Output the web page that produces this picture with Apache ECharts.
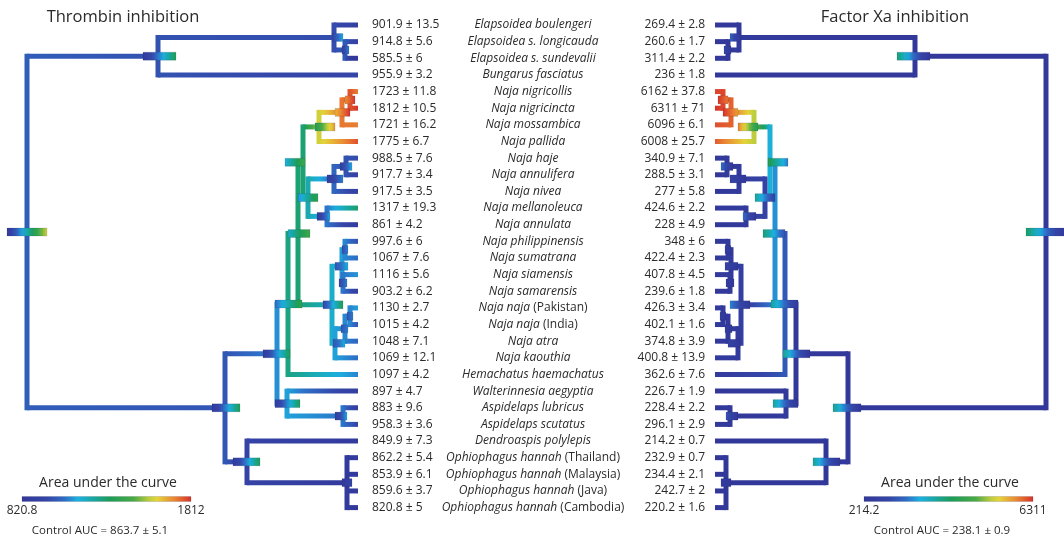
<!DOCTYPE html>
<html><head><meta charset="utf-8">
<script src="https://cdn.jsdelivr.net/npm/echarts@6/dist/echarts.min.js"></script>
<style>html,body{margin:0;padding:0;background:#fff}#c{width:1064px;height:540px}</style>
</head><body><div id="c"></div>
<script>
// ---------------- data ----------------
const species = ['Elapsoidea boulengeri','Elapsoidea s. longicauda','Elapsoidea s. sundevalii','Bungarus fasciatus',
 'Naja nigricollis','Naja nigricincta','Naja mossambica','Naja pallida','Naja haje','Naja annulifera','Naja nivea',
 'Naja mellanoleuca','Naja annulata','Naja philippinensis','Naja sumatrana','Naja siamensis','Naja samarensis',
 'Naja naja (Pakistan)','Naja naja (India)','Naja atra','Naja kaouthia','Hemachatus haemachatus','Walterinnesia aegyptia',
 'Aspidelaps lubricus','Aspidelaps scutatus','Dendroaspis polylepis','Ophiophagus hannah (Thailand)',
 'Ophiophagus hannah (Malaysia)','Ophiophagus hannah (Java)','Ophiophagus hannah (Cambodia)'];
const thrVal = [901.9,914.8,585.5,955.9,1723,1812,1721,1775,988.5,917.7,917.5,1317,861,997.6,1067,1116,903.2,1130,1015,1048,1069,1097,897,883,958.3,849.9,862.2,853.9,859.6,820.8];
const thrErr = [13.5,5.6,6,3.2,11.8,10.5,16.2,6.7,7.6,3.4,3.5,19.3,4.2,6,7.6,5.6,6.2,2.7,4.2,7.1,12.1,4.2,4.7,9.6,3.6,7.3,5.4,6.1,3.7,5];
const fxaVal = [269.4,260.6,311.4,236,6162,6311,6096,6008,340.9,288.5,277,424.6,228,348,422.4,407.8,239.6,426.3,402.1,374.8,400.8,362.6,226.7,228.4,296.1,214.2,232.9,234.4,242.7,220.2];
const fxaErr = [2.8,1.7,2.2,1.8,37.8,71,6.1,25.7,7.1,3.1,5.8,2.2,4.9,6,2.3,4.5,1.8,3.4,1.6,3.9,13.9,7.6,1.9,2.2,2.9,0.7,0.7,2.1,2,1.6];
const thrRange = [820.8, 1812];
const fxaRange = [214.2, 6311];
const titles = ['Thrombin inhibition', 'Factor Xa inhibition'];
const legendTitle = 'Area under the curve';
const controls = ['Control AUC = 863.7 ± 5.1', 'Control AUC = 238.1 ± 0.9'];

// tree topology (parent of each tip, then internal nodes)
const tipParent = ['Elap','ElapS','ElapS','A','SpIn2','SpIn2','SpIn','Sp','HGin','HGin','HG','MA','MA','A1a','A1a','A1b','A1b','A2c','A2c','A2b','A2','H','F','Aspid','Aspid','D','Oph','Oph','Oph','Oph'];
const nodeId     = ['root','A','Elap','ElapS','B','C','H','N','Af','Sp','SpIn','SpIn2','NS','HG','HGin','MA','As','A1','A1a','A1b','A2','A2b','A2c','F','Aspid','D','Oph'];
const nodeParent = [null,'root','A','Elap','root','B','C','H','N','Af','Sp','SpIn','Af','NS','HG','NS','N','As','A1','A1','As','A2','A2b','C','F','B','D'];
const nodeAge    = [33.1,20.0,2.4,1.3,13.3,8.1,7.0,6.0,5.5,3.9,1.6,0.8,5.0,2.4,1.2,3.1,2.6,1.6,1.3,1.5,2.3,1.3,0.8,7.1,1.5,11.1,1.1];
const nodeAgeBar = [[31.1,35.1],[18.2,21.5],[1.5,2.6],[0.9,1.6],[11.8,14.6],[6.8,9.5],[5.6,8.3],[4.8,7.0],[5.3,7.3],[2.3,4.3],[0.8,2.3],[0.3,1.3],[4.0,6.0],[1.5,3.1],[0.6,1.8],[2.8,4.1],[1.5,3.5],[1.0,2.3],[1.0,1.6],[1.1,1.9],[1.3,2.5],[1.0,1.7],[0.5,1.1],[5.8,8.3],[1.1,2.3],[9.8,12.5],[0.6,1.6]];
const ROOT_AGE = 33.1;
// reconstructed ancestral AUC at each internal node
const thrAnc = [1030,1000,990,1020,1010,1110,1280,1300,1300,1590,1730,1770,1220,1050,1000,1080,1180,1130,1100,1080,1130,1100,1100,1130,1080,940,850];
const fxaAnc = [290,280,330,300,260,300,1450,2000,2300,4800,5950,6150,900,400,330,400,650,400,380,320,400,390,410,320,270,240,230];
const thrCI = [[850,1600],[840,1350],[950,1150],[900,1100],[840,1350],[860,1350],[1050,1400],[1180,1450],[1150,1450],[1350,1700],[1650,1812],[1700,1812],[1100,1400],[860,1100],[900,1150],[860,1150],[950,1350],[1000,1150],[980,1100],[950,1100],[1000,1150],[1000,1100],[1000,1100],[860,1350],[860,1150],[840,1350],[820.8,950]];
const fxaCI = [[214,3300],[214,3200],[214,1700],[214,1100],[214,3000],[214,3000],[500,2900],[1300,3200],[1800,3600],[3500,5800],[5500,6311],[5800,6311],[900,2900],[214,900],[214,1800],[214,1800],[214,2000],[214,900],[214,600],[214,600],[214,900],[214,600],[214,600],[214,2900],[214,1400],[214,2900],[214,500]];

// ---------------- colour map ----------------
const cmapStops = [[0,'#32389a'],[0.15,'#3446a8'],[0.25,'#2f6cc6'],[0.33,'#1cb0e0'],[0.42,'#19a7a3'],[0.52,'#1d9d57'],[0.66,'#48aa46'],[0.75,'#bccd3d'],[0.80,'#e5d33a'],[0.90,'#ea8633'],[1,'#d7312a']];
function hex(c){return [parseInt(c.substr(1,2),16),parseInt(c.substr(3,2),16),parseInt(c.substr(5,2),16)];}
function cmap(t){
  t = Math.max(0, Math.min(1, t));
  for (let k = 1; k < cmapStops.length; k++) {
    if (t <= cmapStops[k][0]) {
      const a = hex(cmapStops[k-1][1]), b = hex(cmapStops[k][1]);
      const f = (t - cmapStops[k-1][0]) / (cmapStops[k][0] - cmapStops[k-1][0]);
      return 'rgb(' + a.map((v,j)=>Math.round(v + (b[j]-v)*f)).join(',') + ')';
    }
  }
  return cmapStops[cmapStops.length-1][1];
}
function ramp(v0, v1, rng, n){
  n = n || 8; const out = [];
  for (let k = 0; k <= n; k++) { const f = k/n; const v = v0 + (v1-v0)*f; out.push({offset:f, color:cmap((v-rng[0])/(rng[1]-rng[0]))}); }
  return out;
}

// ---------------- tree layout ----------------
const idx = {}; nodeId.forEach((n,i)=>idx[n]=i);
const kids = nodeId.map(()=>[]);
tipParent.forEach((p,i)=>kids[idx[p]].push({tip:true,i}));
nodeParent.forEach((p,i)=>{ if (p !== null) kids[idx[p]].push({tip:false,i}); });
const nodeY = new Array(nodeId.length);
function yOf(c){ return c.tip ? c.i : calcY(c.i); }
function calcY(i){
  if (nodeY[i] !== undefined) return nodeY[i];
  const ys = kids[i].map(yOf);
  nodeY[i] = (Math.min(...ys) + Math.max(...ys)) / 2;
  return nodeY[i];
}
nodeId.forEach((n,i)=>calcY(i));

function makeRender(side){
  const anc = side ? fxaAnc : thrAnc, vals = side ? fxaVal : thrVal;
  const rng = side ? fxaRange : thrRange, ci = side ? fxaCI : thrCI;
  const col = v => cmap((v - rng[0]) / (rng[1] - rng[0]));
  return function(params, api){
    const P = (age, y) => api.coord([age, y]);
    const lw = 5, bh = 8;
    const verts = [], hors = [], bars = [];
    nodeId.forEach((n,i)=>{
      const ys = kids[i].map(yOf);
      const top = P(nodeAge[i], Math.min(...ys)), bot = P(nodeAge[i], Math.max(...ys));
      verts.push({type:'rect', shape:{x:top[0]-lw/2, y:top[1]-lw/2, width:lw, height:bot[1]-top[1]+lw}, style:{fill:col(anc[i])}});
      kids[i].forEach(c=>{
        const cy = yOf(c);
        const cAge = c.tip ? 0 : nodeAge[c.i];
        const cVal = c.tip ? vals[c.i] : anc[c.i];
        const xp = P(nodeAge[i], cy)[0], pc = P(cAge, cy);
        const x0 = Math.min(xp, pc[0]), w = Math.abs(pc[0]-xp);
        const g = xp < pc[0] ? new echarts.graphic.LinearGradient(0,0,1,0, ramp(anc[i], cVal, rng))
                             : new echarts.graphic.LinearGradient(1,0,0,0, ramp(anc[i], cVal, rng));
        hors.push({type:'rect', shape:{x:x0, y:pc[1]-lw/2, width:w, height:lw}, style:{fill:g}});
      });
      const a = P(nodeAgeBar[i][1], nodeY[i]), b = P(nodeAgeBar[i][0], nodeY[i]);
      const bx = Math.min(a[0], b[0]), bw = Math.abs(b[0]-a[0]);
      const gb = a[0] < b[0] ? new echarts.graphic.LinearGradient(0,0,1,0, ramp(ci[i][0], ci[i][1], rng))
                             : new echarts.graphic.LinearGradient(1,0,0,0, ramp(ci[i][0], ci[i][1], rng));
      bars.push({type:'rect', shape:{x:bx, y:a[1]-bh/2, width:bw, height:bh}, style:{fill:gb, stroke:'rgba(30,30,60,0.25)', lineWidth:0.5}});
    });
    return {type:'group', children: verts.concat(hors, bars)};
  };
}

const thrLabels = thrVal.map((v,i)=>v + ' ± ' + thrErr[i]);
const fxaLabels = fxaVal.map((v,i)=>v + ' ± ' + fxaErr[i]);
const FONT = '"Open Sans", "DejaVu Sans", sans-serif';
const TXT = '#2a2a2a';

function spFmt(v){
  const m = v.match(/^(.*?)\s*(\(.*\))$/);
  return m ? '{i|' + m[1] + '} {n|' + m[2] + '}' : '{i|' + v + '}';
}
const hidden = {axisLine:{show:false}, axisTick:{show:false}, splitLine:{show:false}};

function legend(cx, rng, control){
  const x0 = cx - 84, w = 169;
  return [
    {type:'text', x:cx + 2, y:483, style:{text:legendTitle, fill:TXT, font:'14px ' + FONT, align:'center', verticalAlign:'middle'}},
    {type:'rect', shape:{x:x0, y:496.5, width:w, height:5}, style:{fill:new echarts.graphic.LinearGradient(0,0,1,0, cmapStops.map(s=>({offset:s[0], color:s[1]}))), stroke:'rgba(40,40,60,0.3)', lineWidth:0.5}},
    {type:'text', x:x0, y:511, style:{text:String(rng[0]), fill:TXT, font:'12px ' + FONT, align:'center', verticalAlign:'middle'}},
    {type:'text', x:x0 + w, y:511, style:{text:String(rng[1]), fill:TXT, font:'12px ' + FONT, align:'center', verticalAlign:'middle'}},
    {type:'text', x:cx - 6, y:531, style:{text:control, fill:TXT, font:'11.5px ' + FONT, align:'center', verticalAlign:'middle'}}
  ];
}

const chart = echarts.init(document.getElementById('c'), null, {renderer:'canvas'});
chart.setOption({
  animation:false,
  backgroundColor:'#fff',
  grid:[{left:27, width:331, top:25, height:482.6}, {left:715, width:331, top:25, height:482.6}],
  xAxis:[
    Object.assign({gridIndex:0, type:'value', min:0, max:ROOT_AGE, inverse:true, show:false}, hidden),
    Object.assign({gridIndex:1, type:'value', min:0, max:ROOT_AGE, show:false}, hidden)
  ],
  yAxis:[
    Object.assign({gridIndex:0, type:'value', min:0, max:29, inverse:true, show:false}, hidden),
    Object.assign({gridIndex:0, type:'category', data:thrLabels, inverse:true, boundaryGap:false, position:'right',
      axisLabel:{interval:0, margin:14, color:TXT, fontSize:12, fontFamily:FONT}}, hidden),
    Object.assign({gridIndex:0, type:'category', data:species, inverse:true, boundaryGap:false, position:'right', offset:175,
      axisLabel:{interval:0, margin:0, align:'center', color:TXT, fontSize:12, fontFamily:FONT, formatter:spFmt,
        rich:{i:{fontStyle:'italic', fontSize:12, fontFamily:FONT, color:TXT}, n:{fontStyle:'normal', fontSize:12, fontFamily:FONT, color:TXT}}}}, hidden),
    Object.assign({gridIndex:1, type:'value', min:0, max:29, inverse:true, show:false}, hidden),
    Object.assign({gridIndex:1, type:'category', data:fxaLabels, inverse:true, boundaryGap:false, position:'left',
      axisLabel:{interval:0, margin:10, color:TXT, fontSize:12, fontFamily:FONT}}, hidden)
  ],
  series:[
    {type:'custom', xAxisIndex:0, yAxisIndex:0, data:[[0,0]], renderItem:makeRender(0), silent:true, clip:false},
    {type:'custom', xAxisIndex:1, yAxisIndex:3, data:[[0,0]], renderItem:makeRender(1), silent:true, clip:false}
  ],
  graphic:[
    {type:'text', x:123, y:17, style:{text:titles[0], fill:TXT, font:'16.5px ' + FONT, align:'center', verticalAlign:'middle'}},
    {type:'text', x:895, y:17, style:{text:titles[1], fill:TXT, font:'16.5px ' + FONT, align:'center', verticalAlign:'middle'}}
  ].concat(legend(106, thrRange, controls[0]), legend(948, fxaRange, controls[1]))
});
</script></body></html>
